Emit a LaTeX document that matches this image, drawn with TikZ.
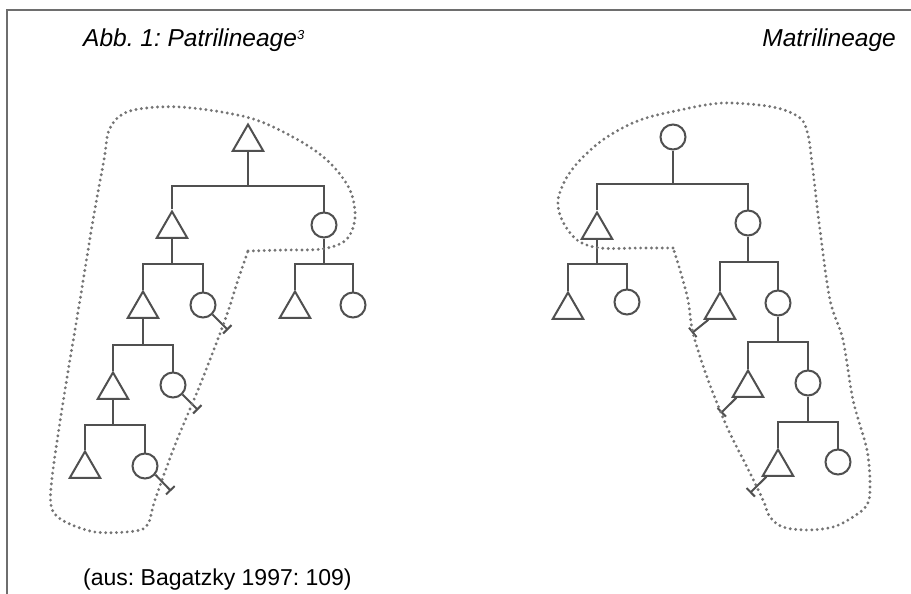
\documentclass[tikz,border=0pt]{standalone}
\usepackage{fontspec}
\setmainfont{Liberation Sans}
\usetikzlibrary{shapes.geometric,arrows.meta}
\definecolor{kinline}{HTML}{505050}
\definecolor{hullgray}{HTML}{747474}
\definecolor{framegray}{HTML}{6E6E6E}
\tikzset{
  male/.style={regular polygon, regular polygon sides=3, minimum size=35pt,
    inner sep=0pt, draw=kinline, line width=2pt},
  female/.style={circle, minimum size=25pt, inner sep=0pt, draw=kinline, line width=2pt},
  kin/.style={draw=kinline, line width=2pt},
  outmarried/.style={kin, -{Bar[width=12pt]}},
  hull/.style={draw=hullgray, line width=3.2pt, line cap=round, dash pattern=on 0pt off 5.4pt},
  title/.style={font=\fontsize{24.5}{28}\selectfont\itshape, inner sep=0pt},
  source/.style={font=\fontsize{23}{27}\selectfont, inner sep=0pt}
}
\frenchspacing
\begin{document}
\begin{tikzpicture}[x=1pt, y=-1pt]
\useasboundingbox (0,0) rectangle (911,594);
\fill[white] (0,0) rectangle (911,594);

% frame
\draw[framegray, line width=1.8pt] (7,594) -- (7,10) -- (911,10);

% captions
\node[title, anchor=base west] (tl) at (83,47) {Abb. 1: Patrilineage\raisebox{7pt}{\fontsize{13}{14}\selectfont 3}};
\node[title, anchor=base east] (tr) at (896,47) {Matrilineage};
\node[source, anchor=base west] (src) at (83,585) {(aus: Bagatzky 1997: 109)};

% ---------------- patrilineage ----------------
\node[male]   (pA) at (248,142) {};
\node[male]   (pB) at (172,229) {};
\node[female] (pC) at (324,225) {};
\node[male]   (pD) at (143,309) {};
\node[female] (pE) at (203,305) {};
\node[male]   (pF) at (295,309) {};
\node[female] (pG) at (353,305) {};
\node[male]   (pH) at (113,390) {};
\node[female] (pI) at (173,385) {};
\node[male]   (pJ) at (85,469) {};
\node[female] (pK) at (145,466) {};

\coordinate (pA1) at (248,186);
\coordinate (pB1) at (172,264);
\coordinate (pC1) at (324,264);
\coordinate (pD1) at (143,345);
\coordinate (pH1) at (113,425);

\draw[kin] (pA.south) -- (pA1);
\draw[kin] (pB.north) |- (pA1) -| (pC.north);
\draw[kin] (pB.south) -- (pB1);
\draw[kin] (pD.north) |- (pB1) -| (pE.north);
\draw[kin] (pC.south) -- (pC1);
\draw[kin] (pF.north) |- (pC1) -| (pG.north);
\draw[kin] (pD.south) -- (pD1);
\draw[kin] (pH.north) |- (pD1) -| (pI.north);
\draw[kin] (pH.south) -- (pH1);
\draw[kin] (pJ.north) |- (pH1) -| (pK.north);

\coordinate (pEt) at (228,330);
\coordinate (pIt) at (198,410);
\coordinate (pKt) at (171,491);
\draw[outmarried] (pE.-45) -- (pEt);
\draw[outmarried] (pI.-45) -- (pIt);
\draw[outmarried] (pK.-40) -- (pKt);

\draw[hull] plot[smooth, tension=0.55] coordinates {
  (248,251) (285,250) (322,249) (346,240) (355,218) (350,190) (330,163)
  (300,141) (250,118) (180,107) (130,111) (110,128) (104,160) (93,220)
  (80,300) (65,390) (53,470) (51,505) (62,520) (95,532) (135,531)
  (148,524) (155,500) (175,445) (200,385) (225,320) (238,280) (248,251)};

% ---------------- matrilineage ----------------
\node[female] (mA) at (673,137) {};
\node[male]   (mB) at (597,230) {};
\node[female] (mC) at (748,223) {};
\node[male]   (mD) at (568,310) {};
\node[female] (mE) at (627,302) {};
\node[male]   (mF) at (720,310) {};
\node[female] (mG) at (778,303) {};
\node[male]   (mH) at (748,388) {};
\node[female] (mI) at (808,383) {};
\node[male]   (mJ) at (778,467) {};
\node[female] (mK) at (838,462) {};

\coordinate (mA1) at (673,184);
\coordinate (mB1) at (597,264);
\coordinate (mC1) at (748,262);
\coordinate (mG1) at (778,342);
\coordinate (mI1) at (808,422);

\draw[kin] (mA.south) -- (mA1);
\draw[kin] (mB.north) |- (mA1) -| (mC.north);
\draw[kin] (mB.south) -- (mB1);
\draw[kin] (mD.north) |- (mB1) -| (mE.north);
\draw[kin] (mC.south) -- (mC1);
\draw[kin] (mF.north) |- (mC1) -| (mG.north);
\draw[kin] (mG.south) -- (mG1);
\draw[kin] (mH.north) |- (mG1) -| (mI.north);
\draw[kin] (mI.south) -- (mI1);
\draw[kin] (mJ.north) |- (mI1) -| (mK.north);

\coordinate (mFt) at (692,333);
\coordinate (mHt) at (721,413);
\coordinate (mJt) at (750,493);
\draw[outmarried] (mF.-140) -- (mFt);
\draw[outmarried] (mH.-140) -- (mHt);
\draw[outmarried] (mJ.-140) -- (mJt);

\draw[hull] plot[smooth, tension=0.55] coordinates {
  (673,248) (640,248) (600,248) (577,240) (562,220) (558,200) (567,177)
  (583,157) (607,137) (640,120) (680,110) (723,103) (773,107) (800,118)
  (808,135) (812,163) (820,230) (830,300) (843,340) (853,400) (867,450)
  (870,487) (867,505) (853,517) (833,527) (807,530) (783,527) (770,517)
  (763,500) (747,467) (727,427) (707,377) (693,333) (688,300) (680,270)
  (673,248)};
\end{tikzpicture}
\end{document}
